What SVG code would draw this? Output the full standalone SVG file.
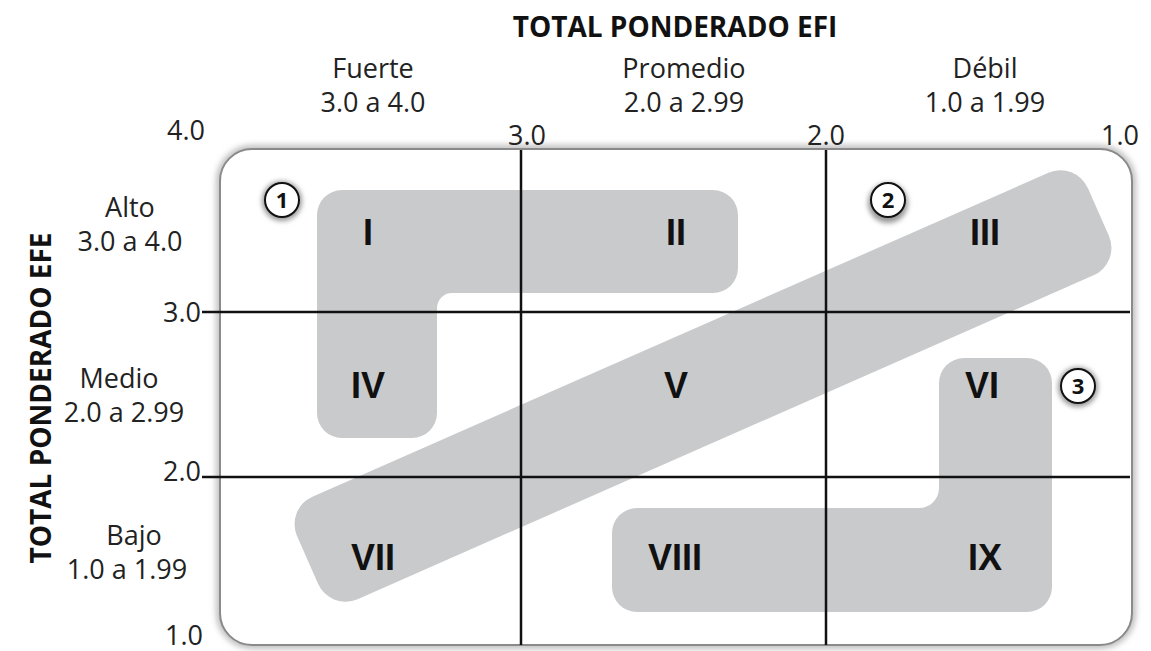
<svg xmlns="http://www.w3.org/2000/svg" width="1151" height="651" viewBox="0 0 1151 651">
  <style>
    .lbl { font-family: "Open Sans", "Liberation Sans", sans-serif; font-size: 27px; fill: #222; text-anchor: middle; }
    .tick { font-family: "Open Sans", "Liberation Sans", sans-serif; font-size: 27px; fill: #222; text-anchor: middle; }
    .title { font-family: "Open Sans", "Liberation Sans", sans-serif; font-size: 28px; font-weight: bold; fill: #111; text-anchor: middle; }
    .rom { font-family: "Liberation Sans", "Open Sans", sans-serif; font-size: 36px; font-weight: bold; fill: #111; text-anchor: middle; }
    .num { font-family: "Open Sans", "Liberation Sans", sans-serif; font-size: 22px; font-weight: bold; fill: #111; text-anchor: middle; }
    .zone { fill: #c9cacc; }
    .grid { stroke: #111; stroke-width: 2.5; fill: none; }
    .circ { fill: #fff; stroke: #111; stroke-width: 2; }
  </style>
  <defs>
    <filter id="blur" x="-20%" y="-20%" width="140%" height="140%">
      <feGaussianBlur stdDeviation="3"/>
    </filter>
    <filter id="glow" x="-50%" y="-50%" width="200%" height="200%">
      <feGaussianBlur stdDeviation="2.5"/>
    </filter>
  </defs>
  <rect width="1151" height="651" fill="#fff"/>

  <g id="frame">
    <rect x="220" y="149" width="912" height="496" rx="32" fill="none" stroke="#b5b5b5" stroke-width="7" filter="url(#blur)"/>
    <rect x="220" y="149" width="912" height="496" rx="32" fill="#fff" stroke="#8a8a8a" stroke-width="2"/>
  </g>

  <g id="zone1">
    <path class="zone" d="M 342 190 H 713 A 25 25 0 0 1 738 215 V 268 A 25 25 0 0 1 713 293 H 452 A 15 15 0 0 0 437 308 V 413 A 25 25 0 0 1 412 438 H 342 A 25 25 0 0 1 317 413 V 215 A 25 25 0 0 1 342 190 Z"/>
  </g>
  <g id="zone2">
    <rect class="zone" x="-432" y="-56" width="864" height="112" rx="30" transform="translate(703 386) rotate(-23.75)"/>
  </g>
  <g id="zone3">
    <path class="zone" d="M 964 358 H 1027 A 25 25 0 0 1 1052 383 V 587 A 25 25 0 0 1 1027 612 H 637 A 25 25 0 0 1 612 587 V 533 A 25 25 0 0 1 637 508 H 919 A 20 20 0 0 0 939 488 V 383 A 25 25 0 0 1 964 358 Z"/>
  </g>

  <g id="connectors">
    <line class="grid" x1="521" y1="150" x2="521" y2="645"/>
    <line class="grid" x1="826" y1="150" x2="826" y2="645"/>
    <line class="grid" x1="202" y1="312" x2="1130" y2="312"/>
    <line class="grid" x1="202" y1="477" x2="1130" y2="477"/>
  </g>

  <g id="cell-I"><text class="rom" x="368" y="245">I</text></g>
  <g id="cell-II"><text class="rom" x="676" y="245">II</text></g>
  <g id="cell-III"><text class="rom" x="985" y="245">III</text></g>
  <g id="cell-IV"><text class="rom" x="368" y="398">IV</text></g>
  <g id="cell-V"><text class="rom" x="676" y="398">V</text></g>
  <g id="cell-VI"><text class="rom" x="982" y="398">VI</text></g>
  <g id="cell-VII"><text class="rom" x="373" y="570">VII</text></g>
  <g id="cell-VIII"><text class="rom" x="675" y="570">VIII</text></g>
  <g id="cell-IX"><text class="rom" x="985" y="570">IX</text></g>

  <g id="marker-1">
    <circle cx="282" cy="201" r="20" fill="#999" filter="url(#glow)"/>
    <circle class="circ" cx="282" cy="200" r="17"/>
    <text class="num" x="282" y="208">1</text>
  </g>
  <g id="marker-2">
    <circle cx="888" cy="203" r="20" fill="#999" filter="url(#glow)"/>
    <circle class="circ" cx="888" cy="200" r="17"/>
    <text class="num" x="888" y="208">2</text>
  </g>
  <g id="marker-3">
    <circle cx="1078" cy="387" r="20" fill="#999" filter="url(#glow)"/>
    <circle class="circ" cx="1078" cy="386" r="17"/>
    <text class="num" x="1078" y="394">3</text>
  </g>

  <g id="axis-top">
    <text class="title" x="675" y="37">TOTAL PONDERADO EFI</text>
    <text class="lbl" x="373" y="78">Fuerte<tspan x="373" dy="34">3.0 a 4.0</tspan></text>
    <text class="lbl" x="684" y="78">Promedio<tspan x="684" dy="34">2.0 a 2.99</tspan></text>
    <text class="lbl" x="985" y="78">Débil<tspan x="985" dy="34">1.0 a 1.99</tspan></text>
    <text class="tick" x="186" y="140">4.0</text>
    <text class="tick" x="527" y="145">3.0</text>
    <text class="tick" x="826" y="145">2.0</text>
    <text class="tick" x="1120" y="145">1.0</text>
  </g>

  <g id="axis-left">
    <text class="title" transform="translate(51 398) rotate(-90)">TOTAL PONDERADO EFE</text>
    <text class="lbl" x="130" y="217">Alto<tspan x="130" dy="34">3.0 a 4.0</tspan></text>
    <text class="tick" x="182" y="322">3.0</text>
    <text class="lbl" x="119" y="388">Medio<tspan x="124" dy="34">2.0 a 2.99</tspan></text>
    <text class="tick" x="182" y="481">2.0</text>
    <text class="lbl" x="134" y="545">Bajo<tspan x="127" dy="34">1.0 a 1.99</tspan></text>
    <text class="tick" x="184" y="645">1.0</text>
  </g>
</svg>
